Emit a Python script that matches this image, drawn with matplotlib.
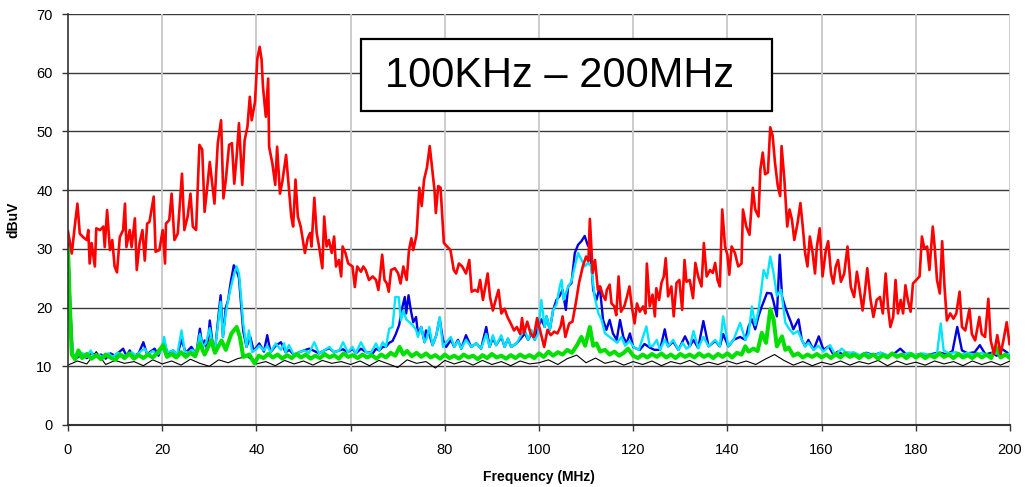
import matplotlib
matplotlib.use("Agg")
import matplotlib.pyplot as plt
from matplotlib.patches import Rectangle

plt.rcParams['font.family'] = ['Liberation Sans', 'DejaVu Sans']

# ---------------- data ----------------
red_f = [0,0.8,1.5,2,2.5,3.2,4,4.3,4.6,5,5.7,6,6.8,7.5,7.8,8.3,8.9,9.4,9.9,10.4,11,11.7,12.1,12.4,13.1,13.5,14.2,14.6,15.2,15.8,16.3,16.8,17.3,18.2,18.6,19.4,20.1,20.6,20.8,21.5,22,22.6,23.3,24.2,24.7,25.4,26,26.5,27.2,27.9,28.5,29,29.5,30.1,30.7,31.1,31.8,32.5,33,33.5,34.2,34.8,35.3,35.8,36.3,37,37.5,38.1,38.6,39,39.7,40.2,40.7,41.1,41.4,42,42.5,42.7,43.4,44,44.4,45,45.5,46.3,
         47.4,47.8,48.3,48.8,49.4,50.3,50.9,51.4,51.7,52.3,52.8,53.3,54,54.4,54.9,55.4,56,56.5,56.9,57.5,58,58.3,58.9,59.5,60.4,60.9,61.4,62.2,62.7,63.2,63.9,64.7,65.4,65.9,66.3,66.7,67.2,67.7,68.1,68.6,69.4,70.1,70.6,71.2,71.9,72.4,72.9,73.3,74,74.6,75.1,75.6,76.2,76.8,77.3,77.8,78.1,78.6,79.1,79.8,80.5,81.2,81.9,82.4,83,83.7,84.5,85.2,85.7,86.4,87,87.5,88.1,88.6,89.1,89.6,90.2,90.8,91.4,92,92.7,93.3,94,94.7,95.3,96,
         96.4,96.8,97.5,98.2,98.9,99.6,100.4,101.1,101.8,102.5,103.2,103.9,104.6,105,105.6,106.4,107.1,107.8,108.5,109.3,110,110.5,110.8,111.4,111.9,112.5,113,113.5,114.1,114.4,115,115.4,116,116.4,116.9,117.4,118.1,118.6,119.2,119.7,120.3,120.8,121.4,122.1,122.6,122.9,123.5,124.1,124.6,124.9,125.5,126,126.5,126.9,127.4,128.1,128.6,129.2,129.8,130.4,130.9,131.3,132,132.7,133.2,133.8,134.5,135,135.6,136.3,136.9,137.4,137.9,138.4,138.9,139.5,140,140.4,140.9,141.6,142.3,
         143,143.3,144,144.7,145.4,145.9,146.6,147,147.5,148,148.6,149.1,149.6,150.1,150.7,151.2,151.5,152.1,152.7,153.2,153.7,154.2,154.9,155.5,156,156.5,157,157.5,158.1,158.6,159,159.6,160.2,160.9,161.4,162,162.5,163,163.5,164.1,164.8,165.5,166.2,166.9,167.5,168,168.7,169.2,169.7,170.4,171,171.7,172.4,173,173.6,174.1,174.6,175.2,175.7,176.2,176.8,177.3,177.8,178.3,178.9,179.4,180.1,180.8,181.3,181.8,182.4,182.9,183.6,184,184.5,185.1,185.6,186.1,186.6,187.3,188,188.6,189.3,189.8,190.5,191.4,191.9,192.6,193.5,194,194.7,195.4,195.9,196.6,197.3,198,198.6,199.3,199.9]
red_v = [33,29.2,34.3,37.7,32.6,32,31.5,33.2,27.5,31,27,33.5,33.2,33.8,30.3,36.6,29.8,31.5,27,26,32,33.2,37.7,30.3,33.2,30.3,35.2,26.4,31,33.2,28,34.3,34.6,38.9,29.5,29.8,33.2,27.5,34.3,34.9,39.4,31.5,32.6,42.8,33.2,35.5,39.4,33.8,33.2,47.7,46.9,36.3,40,44.8,40.6,37.7,48,51.9,38.6,41.7,47.7,48,41.1,45.7,51.4,40.9,48.5,50.8,55.9,51.9,55,62.4,64.4,62.2,57.6,52.5,59,47.4,44.5,40.9,47.4,39.4,41.4,46,
         35.5,33.8,41.8,35.5,33.8,29.3,31.8,32.7,30.4,38.7,32.7,30.4,26.7,35.5,30.4,31.5,29.3,32.1,27,28.1,25.3,30.4,29.3,27.5,27,23.5,27,26.1,27,26.4,24.7,25.3,24.7,23,25.8,29,24.7,24.1,22.7,26.4,26.7,25.8,24.1,27,24.7,29.8,31.8,29.8,32.4,40.4,37.3,41.8,43.8,47.5,43.8,40.1,36.1,40.7,40.4,31,30.4,29.8,26.4,25.8,27.5,27,25.8,28.1,22.7,23,22.7,24.7,21.3,23.5,25.8,21.8,19.5,21.3,23,19,19.8,18.4,17.3,16.1,16.7,15.5,
         18.2,15.6,17.6,15.6,15,18.2,15.6,13.3,16.2,15.3,15.9,15.6,16.8,18.5,15,17.3,17.6,20.7,24.2,27,28.7,27.9,35.1,25.9,28.1,23,23.6,22.2,21.3,23,23.9,20.7,20.2,18.7,25.3,19.3,20.2,21.6,23.6,20.2,17.3,20.7,19.3,20.2,19,27.5,20.2,22.2,18.5,23.3,21.3,24.2,25.3,28.4,21.9,23.6,18.5,24.2,24.7,19.6,28.1,24.4,24.7,21.6,27.6,25.3,23.6,31,25.3,26.4,25.9,27.6,24.7,23.6,36.7,30.4,29,25.6,30.4,29.3,27,
         27.5,36.7,33.8,32.4,40.4,36.7,35.5,43.5,46.4,42.7,43,50.7,49.3,44.7,40.7,39,47.5,41.8,33.8,36.7,35,31.5,34.4,37.8,33.8,29.3,27,32.1,29.3,25.8,30.4,33.5,25.3,29.8,31.3,25.8,24.1,27,28.1,24.4,25.8,30.4,23.5,21.8,26.1,23.5,19.5,22.7,26.7,21.3,18.4,21.3,21.8,19,25.8,20.1,16.7,18.4,24.7,19,21.3,19,23.8,21.3,19.3,24.1,24.7,25.3,32.1,30.1,30.4,26.4,33.8,30.4,24.7,22.4,31.3,23.5,17.8,19,18.1,19,22.7,16.7,16.1,19.8,15.5,14.4,18.4,15.5,15,21.5,14.4,12.1,15.3,12.1,14.4,17.5,13.8]

blue_f = [0,0.5,1,2,3,4,5,6,7,8,9,10,11,11.7,12.4,13.1,14,15,16,16.8,17.5,18.4,19.2,20.4,21.2,22.3,23.2,24.1,25,26.2,27.2,28,28.6,29,29.6,30.1,30.7,31.2,32.4,32.9,33.5,34,34.5,35.2,35.8,36.3,36.8,37.2,37.9,38.7,39.4,40.1,40.6,41.6,42.3,43,44.1,45.2,46.2,47,48,49.1,50.1,51.2,52.3,53.3,54.4,55.5,56.5,57.6,58.4,59.4,60.4,61.1,62.2,63.3,64,64.7,65.4,66.1,66.8,67.5,68.2,68.9,69.6,70.3,71,71.5,71.8,72.3,72.8,73.3,73.9,74.3,75,75.7,76,76.7,77.4,78.2,78.9,79.6,80.3,81.3,82,82.8,83.5,84.5,85.6,86.7,87.7,88.8,89.5,90.2,90.9,92,92.7,93.4,94.1,95.2,96.2,97,97.7,98.4,99.1,99.8,100.5,101.2,101.6,102.3,103,103.7,104.4,105,105.7,106.2,106.9,107.6,108.3,109,109.7,110.4,110.8,111.1,111.5,112.2,112.9,113.6,114.3,115,115.7,116.5,117.2,117.9,118.6,119.3,120,120.7,121.4,122.4,123.5,124.5,125.7,126.7,127.4,128.5,129.6,131,132,132.8,133.8,134.9,136,137.4,138.4,139.1,140.2,141.3,142.7,143.8,144.5,145.2,145.9,146.6,147.2,147.7,148.4,149.3,149.8,150.5,151.1,151.6,152.3,153,153.5,154,155.1,155.8,156.5,157.2,158.3,159.4,160.4,161.5,162.5,163.5,164.5,165.5,166.8,168,169.5,171,172.5,174,175.5,176.7,178,179.5,181,182.5,184,185.3,186.5,187.8,188.8,189.8,191,192.5,193.6,194.8,196,197.2,198.2,199.3,200]
blue_v = [31,20,12,11.5,12,11.4,12.3,11.6,12,11.3,12.2,11.8,12.5,13,11.8,12.7,11.7,12.2,14.1,12,12.5,13,11.8,14.2,12,12.7,11.9,14.5,12.3,13.3,12,16.4,13,14.4,12.8,17.8,14,12.7,22.1,15,20,21.3,24.1,27.2,26.4,25,20,16,13.3,15,12.7,13.3,13.9,12.5,15.3,12.4,13.5,14.1,12.4,12.8,11.9,12.4,12.7,13,12.6,12.2,12.7,13.1,12.4,12.7,12.9,12.4,13,12.2,13,12.4,12.4,12.2,13,12.7,13.3,13.3,14,14.3,15.5,17,20.1,21.8,19,22.1,19.5,17.5,18.4,15.5,16.7,14.1,16.1,15.5,13.6,15.3,18.2,14.5,13.3,14.5,13.3,14.5,13,15.3,13.3,13.9,13,16.7,13.3,14.8,13.6,15,13.3,14.7,13.3,13.9,14.8,15.6,14.5,15.6,14.5,16.7,18,16.7,18.5,16.2,19.6,21.3,22,23,19.6,23.6,24.2,29.3,30.7,31.3,32.2,30.5,31.6,27.6,23,21.3,23.6,17.9,16.2,17.9,15.6,14.5,17.9,15,13.9,15.6,13.3,13,12.8,13.8,13.2,12.8,12.8,16.3,13.4,14.2,12.8,15.1,13.4,14.5,13.1,17.7,13.4,14.3,13.4,15.5,13.4,14.5,15,14.5,16.8,18,16.3,18.5,20,21,22.5,22.4,21,18.5,29,21.9,20,18.5,17.5,16.3,18,14.5,13.4,14.5,12.8,15.1,12.8,13.4,12,12.5,12,12.3,12.2,11.8,12.3,11.9,12.3,11.8,12.2,13,12,11.8,12.1,11.9,12.2,12.3,12,12.6,16.7,12.7,12.2,12.4,13.6,12,12.3,11.8,13,12.4,11.8]

cyan_f = [0,0.5,1,2,3,4,4.8,5.6,6.5,7.5,8.5,9.5,10.5,11.5,12.5,13.5,14.5,15.5,16.3,17,18,19,19.8,20.4,21,22.3,23.2,24.1,24.8,25.6,26.4,27.2,28,28.6,29.3,30.1,30.6,31.2,32.4,32.9,33.5,34,34.6,35.2,35.8,36.3,36.8,37.2,37.9,38.4,39.1,40.1,40.6,41.6,42.3,43,44.1,45.2,45.9,46.2,46.9,48,49.1,50.1,51.2,52.3,53.3,54.4,55.5,56.5,57.6,58.4,59.4,60.4,61.1,62.2,63.3,64.3,65.4,66.1,66.8,67.5,68.2,68.9,69.5,70.2,70.7,71.2,71.8,72.5,73.2,73.9,74.3,75,75.7,76.2,76.7,77.4,78.2,78.9,79.6,80.3,81.3,82,82.8,83.5,84.5,85.6,86.7,87.7,88.8,89.5,90.2,90.9,92,92.7,93.4,94.1,95.2,96.2,97,97.7,98.4,99.1,99.8,100.5,101.2,101.6,102.3,103,103.7,104.4,104.8,105.2,105.7,106.2,106.9,107.6,108.3,109,109.7,110.4,111.1,111.8,112.6,113.3,114,115,115.8,116.6,117.5,118.3,119.2,120.2,121.2,122.8,123.5,124.2,125,125.7,126.7,127.4,128.5,129.6,130.5,131.3,132,132.8,133.8,134.9,136,137.4,138.4,139.1,140.2,141.3,142.7,143.8,144.5,145.2,145.9,146.6,147.2,147.7,148.4,149.1,149.8,150.5,151.4,152.3,153,154,155,155.8,156.5,157.2,158.3,159.3,160.4,161.8,162.9,164.3,165.4,166.8,168,169.5,171,172.5,174,175.5,177,178.5,180,181.5,183,184.5,185.3,185.9,187,188.5,189.8,191,192.5,194,195.5,197,198.5,200]
cyan_v = [29,18,12,11.8,12.3,11.6,12.7,11.5,12,11.4,12.2,11.6,12.3,12,11.6,12.4,11.8,12.6,13,12,12.6,12,12.6,15,12.4,12.7,12,16.1,12.5,12.3,12.8,12.2,15.5,13.3,14,16.5,14.2,12.7,21,15,19,21.3,23.5,25.5,27,25.8,21.3,17.3,13.3,16.1,12.4,13,13.5,12.7,13.5,12.4,13.9,12.8,13.9,12.4,13.6,11.9,12.4,12.7,12.3,14.1,12.2,12.7,13.3,12.4,12.7,14.1,12.4,13.3,12.2,14.1,12.4,12.3,13.9,12.7,14.1,13.3,16.4,16.7,21.8,21.8,17.8,19.5,18,17.5,17,16.2,15,16.7,14.1,14.8,16.7,13.6,15.3,18.4,13.3,14.1,15,13.3,14.3,13,14.5,13.3,13.9,13,15.5,13.3,15.3,13.6,15.3,13.3,14.7,13.3,13.9,15.3,16.2,14.5,16.2,14.5,15.5,21.3,16.7,18.5,16.2,19.6,20.5,23.6,24.7,21.3,22.5,23.6,24.5,27,29.3,28.2,27,27.6,27,21.9,19,17.9,15.6,15,14.5,14,15,13.5,14.3,13.2,12.8,16.8,13.4,13.5,14.5,12.8,14.5,13.4,14.5,12.8,14,13,13.4,16,13.1,15,13.4,14.5,13.4,18.5,13.4,14.5,17.4,14.5,15.5,20.2,17,19.5,23.1,26.4,25,28.7,25.9,22,23,17.4,16.5,15.5,16,14.5,13.4,14,12.8,13.5,12.5,13.6,11.9,13,12.2,12.4,11.9,12.2,11.8,12.3,11.9,12.1,11.8,12.3,11.9,12.2,11.9,12.1,17.3,12.7,12.2,12.4,12,12.3,11.9,12.3,11.8,12.2,11.9,12.1]

green_f = [0,0.4,0.8,1.5,2.2,3,4,5,6,7,8,9,10,11,12,13,14,15,16,17,18,19,20.2,21,22,23,24,25,26,27,28,29,30.4,31.2,32.6,33.5,34.7,35.8,36.5,37.2,38.5,39.6,40.5,41.5,42.5,43.5,44.5,45.5,46.5,47.5,48.5,49.5,50.5,51.5,52.5,53.5,54.5,55.5,56.5,57.5,58.5,59.5,60.5,61.5,62.5,63.5,64.5,65.5,66.5,67.5,68.5,69.5,70.4,71.2,72,73,74,75,76,77,78,79,80,81,82,83,84,85,86,87,88,89,90,91,92,93,94,95,96,97,98,99,100,101,102,103,104,105,106,107,108,109,109.8,110.8,111.5,112.2,113,114,115,116,117,118,118.9,120,121,122,123,124,125,126,127,128,129,130,131,132,133,134,135,136,137,138,139,140,141,142,143,143.8,144.5,145.5,146.4,147.3,148.2,149.1,149.8,150.5,151.6,152.3,153,154,155,156,157,158,159,160,161,162,163,164,165,166,167,168,169,170,171,172,173,174,175,176,177,178,179,180,181,182,183,184,185,186,187,188,189,190,191,192,193,194,195,196,197,198,199,200]
green_v = [30,20,12,11.2,12.7,11.4,12.1,11.3,11.9,11.2,12,11.5,11.1,12,11.4,12.2,11.3,11.9,11.4,12,11.5,12.3,13.6,11.6,12.1,11.5,12.4,11.6,12.3,11.7,13.9,12,14.4,12.3,14.4,12.8,15.6,16.7,15,11.6,12,10.5,11.8,11.4,12.1,11.5,12,11.3,11.9,11.4,12.1,11.5,12,11.3,11.8,11.4,12.1,11.5,11.9,11.3,12.2,11.6,11.9,11.4,12,11.5,11.9,11.3,12,11.5,12.3,11.8,13.3,12,12.6,11.7,12.3,11.6,12.2,11.5,11.9,11.3,12,11.4,11.8,11.3,12,11.5,11.8,11.2,11.9,11.4,12.1,11.5,11.8,11.3,11.9,11.4,12,11.5,11.9,11.4,12.2,11.6,12.5,11.8,12.4,12,12.8,12.3,13.5,15,13.5,16.7,13.5,13.9,12.5,12.8,12,12.5,11.8,12.3,13,11.8,11.4,12,11.5,12.1,11.6,12.2,11.5,12,11.4,12.1,11.6,12,11.5,12.2,11.6,12,11.4,12.1,11.6,12.2,11.5,12.3,12,13.4,12.5,13,12.6,15.7,14,19.7,18,13.4,15.1,12.8,13.2,11.8,12.2,11.5,12,11.6,12.1,11.5,12,11.4,12.1,11.5,12.2,11.6,12,11.4,12.1,11.5,12,11.3,11.9,11.5,12.2,11.6,12,11.4,12.1,11.5,12,11.4,11.9,11.5,12.2,11.6,12,11.4,12.1,11.5,11.9,11.4,12.1,11.5,12,11.4,13.3,11.5,12,11.4]

black_f = list(range(0, 201, 2))
black_v = [10.2,10.9,10.4,12.5,10.3,11.0,10.5,10.8,10.1,11.1,10.4,
           10.9,10.2,11.2,10.5,10.0,11.1,10.6,11.3,11.7,10.4,
           10.8,10.1,11.0,10.4,10.9,10.2,11.0,10.5,10.8,10.3,
           10.9,10.1,11.0,10.4,9.8,11.1,10.5,10.8,9.7,11.0,
           10.4,10.9,10.2,11.0,10.3,10.8,10.1,10.9,10.4,10.6,
           11.1,10.3,11.3,11.9,10.6,11.4,10.5,10.9,10.2,10.8,
           10.3,10.9,10.1,10.8,10.4,11.0,10.2,10.7,10.3,10.9,
           10.4,10.9,10.3,11.2,12.0,11.0,10.2,10.8,10.1,10.7,
           10.3,10.9,10.2,10.8,10.4,11.0,10.1,10.9,10.3,10.7,
           10.2,10.9,10.4,10.8,10.1,10.9,10.3,10.8,10.2,10.9]

x_ticks = list(range(0, 201, 20))
y_ticks = list(range(0, 71, 10))
title_text = "100KHz \u2013 200MHz"
x_label = "Frequency (MHz)"
y_label = "dBuV"

# ---------------- figure ----------------
fig = plt.figure(figsize=(10.30, 4.87), dpi=100)
ax = fig.add_axes([68/1030, 1-425/487, (1010-68)/1030, (425-14)/487])

ax.plot(black_f, black_v, color='black', lw=0.8, zorder=3)
ax.plot(blue_f, blue_v, color='#0000e0', lw=1.7, zorder=4)
ax.plot(cyan_f, cyan_v, color='#00e5ff', lw=1.7, zorder=5)
ax.plot(green_f, green_v, color='#00e000', lw=2.9, zorder=6)
ax.plot(red_f, red_v, color='#ff0000', lw=1.9, zorder=7)

ax.set_xlim(0, 200)
ax.set_ylim(0, 70)
ax.set_xticks(x_ticks)
ax.set_yticks(y_ticks)

for v in y_ticks[1:]:
    ax.axhline(v, color='#3a3a3a', lw=1.0, zorder=1)
for v in x_ticks[1:]:
    ax.axvline(v, color='#c8c8c8', lw=1.3, zorder=1)

for s in ['top', 'right']:
    ax.spines[s].set_visible(False)
ax.spines['left'].set_color('#333333')
ax.spines['bottom'].set_color('#333333')
ax.spines['left'].set_linewidth(1.2)
ax.spines['bottom'].set_linewidth(1.5)
ax.spines['left'].set_zorder(8)
ax.spines['bottom'].set_zorder(8)

ax.tick_params(axis='both', direction='out', length=4, width=1, colors='#333333',
               labelsize=10.5, labelcolor='black')
ax.tick_params(axis='x', pad=9)
ax.tick_params(axis='y', pad=7)

ax.set_xlabel(x_label, fontsize=10, fontweight='bold', labelpad=9)
ax.set_ylabel(y_label, fontsize=10, fontweight='bold')
ax.yaxis.set_label_coords(-0.051, 0.5)

# title box
fig.patches.append(Rectangle((361/1030, 1-111/487), 411/1030, 72/487,
                             transform=fig.transFigure, fill=True, facecolor='white',
                             edgecolor='black', lw=1.6, zorder=10))
fig.text(560/1030, 1-76/487, title_text, ha='center', va='center', fontsize=30, zorder=11)

fig.savefig("out.png", dpi=100)
